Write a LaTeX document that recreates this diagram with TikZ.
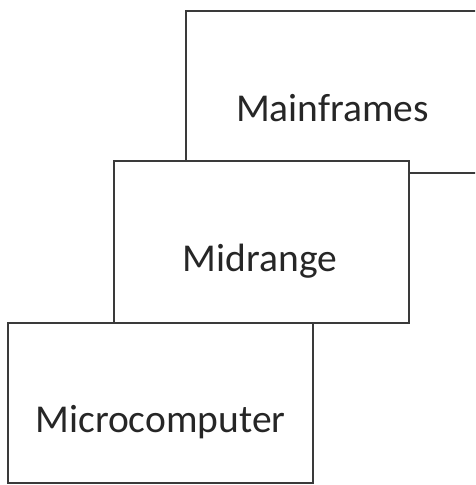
\documentclass[tikz,border=0pt]{standalone}
\usepackage{fontspec}
\setmainfont{Carlito}
\definecolor{edge}{HTML}{3A3A3A}
\definecolor{ink}{HTML}{262626}
\tikzset{
  tier/.style={draw=edge, line width=2pt, fill=white, inner sep=0pt, outer sep=0pt},
  tiertext/.style={anchor=base, text=ink, inner sep=0pt, font=\fontsize{39.5}{47}\selectfont}
}
\begin{document}
\begin{tikzpicture}[x=1pt, y=1pt]
  \clip (0,0) rectangle (475,485);
  \fill[white] (0,0) rectangle (475,485);
  % stacked tiers, back to front
  \node[tier, minimum width=294pt, minimum height=162pt] (mainframes) at (333,393) {};
  \node[tier, minimum width=295pt, minimum height=162pt] (midrange) at (261.5,242.5) {};
  \node[tier, minimum width=305pt, minimum height=160pt] (micro) at (160.5,81.5) {};
  % labels
  \node[tiertext] (mainframesText) at (332.5,363) {Mainframes};
  \node[tiertext] (midrangeText) at (260,213) {Midrange};
  \node[tiertext] (microText) at (160.5,52) {Microcomputer};
\end{tikzpicture}
\end{document}
